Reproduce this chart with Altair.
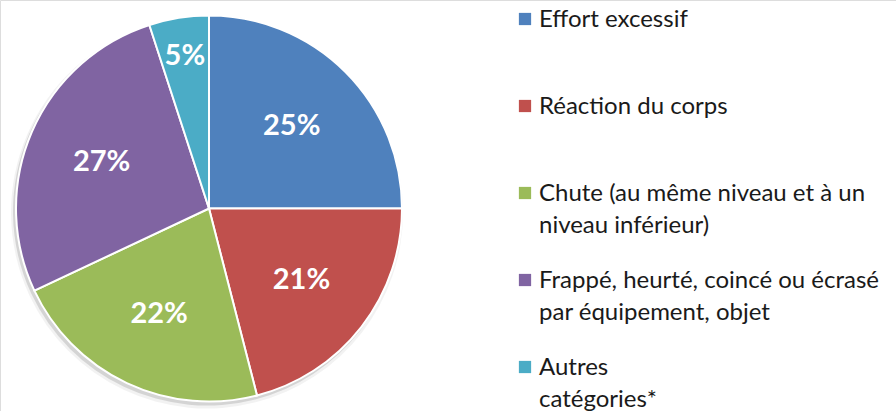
import altair as alt
import pandas as pd

categories = [
    "Effort excessif",
    "Réaction du corps",
    "Chute (au même niveau et à un niveau inférieur)",
    "Frappé, heurté, coincé ou écrasé par équipement, objet",
    "Autres catégories*",
]
legend_lines = [
    "Effort excessif",
    "Réaction du corps",
    "Chute (au même niveau et à un|niveau inférieur)",
    "Frappé, heurté, coincé ou écrasé|par équipement, objet",
    "Autres|catégories*",
]
values = [25, 21, 22, 27, 5]
labels = ["25%", "21%", "22%", "27%", "5%"]
colors = ["#4F81BD", "#C0504D", "#9BBB59", "#8064A2", "#4BACC6"]

df = pd.DataFrame({
    "cat": categories,
    "legend": legend_lines,
    "value": values,
    "label": labels,
    "order": list(range(len(categories))),
})

CX, CY, R = 209, 208.5, 193

color = alt.Color("cat:N", scale=alt.Scale(domain=categories, range=colors), legend=None)
theta = alt.Theta("value:Q", stack=True)
order = alt.Order("order:Q", sort="ascending")

base = alt.Chart(df)

shadow = base.mark_arc(outerRadius=R + 1, color="#000000", opacity=0.12).encode(
    theta=theta, order=order, x=alt.value(CX - 2), y=alt.value(CY + 3)
)
shadow2 = base.mark_arc(outerRadius=R + 3, color="#000000", opacity=0.05).encode(
    theta=theta, order=order, x=alt.value(CX - 2), y=alt.value(CY + 4)
)

pie = base.mark_arc(outerRadius=R, stroke="white", strokeWidth=2).encode(
    theta=theta, color=color, order=order, x=alt.value(CX), y=alt.value(CY)
)

pct = base.transform_window(
    cum="sum(value)", sort=[alt.SortField("order", order="ascending")], frame=[None, 0]
).transform_calculate(
    mid="datum.cum - datum.value / 2",
    lr="datum.value < 10 ? 154 : 117",
).mark_text(font="Lato", fontWeight="bold", fontSize=29, color="white",
            baseline="middle", align="center").encode(
    theta=alt.Theta("mid:Q", stack=False, scale=alt.Scale(domain=[0, 100])),
    text="label:N",
    radius=alt.Radius("lr:Q", scale=None),
    x=alt.value(CX), y=alt.value(CY),
)

ypos = alt.Y("cat:N", scale=alt.Scale(domain=categories, range=[19, 367], padding=0), axis=None)

leg_sym = base.mark_square(size=150, opacity=1).encode(
    x=alt.value(525), y=ypos, color=color
)
leg_txt = base.mark_text(font="Lato", fontSize=24, color="#1a1a1a", align="left",
                         baseline="alphabetic", dy=8, lineBreak="|", lineHeight=32).encode(
    x=alt.value(539), y=ypos, text="legend:N"
)

chart = alt.layer(shadow2, shadow, pie, pct, leg_sym, leg_txt).resolve_scale(
    theta="independent"
).properties(
    width=896, height=411,
    autosize=alt.AutoSizeParams(type="none"),
    padding=0,
).configure_view(stroke=None).configure(background="white")

chart.save("out.html", embed_options={"renderer": "svg", "actions": False})
